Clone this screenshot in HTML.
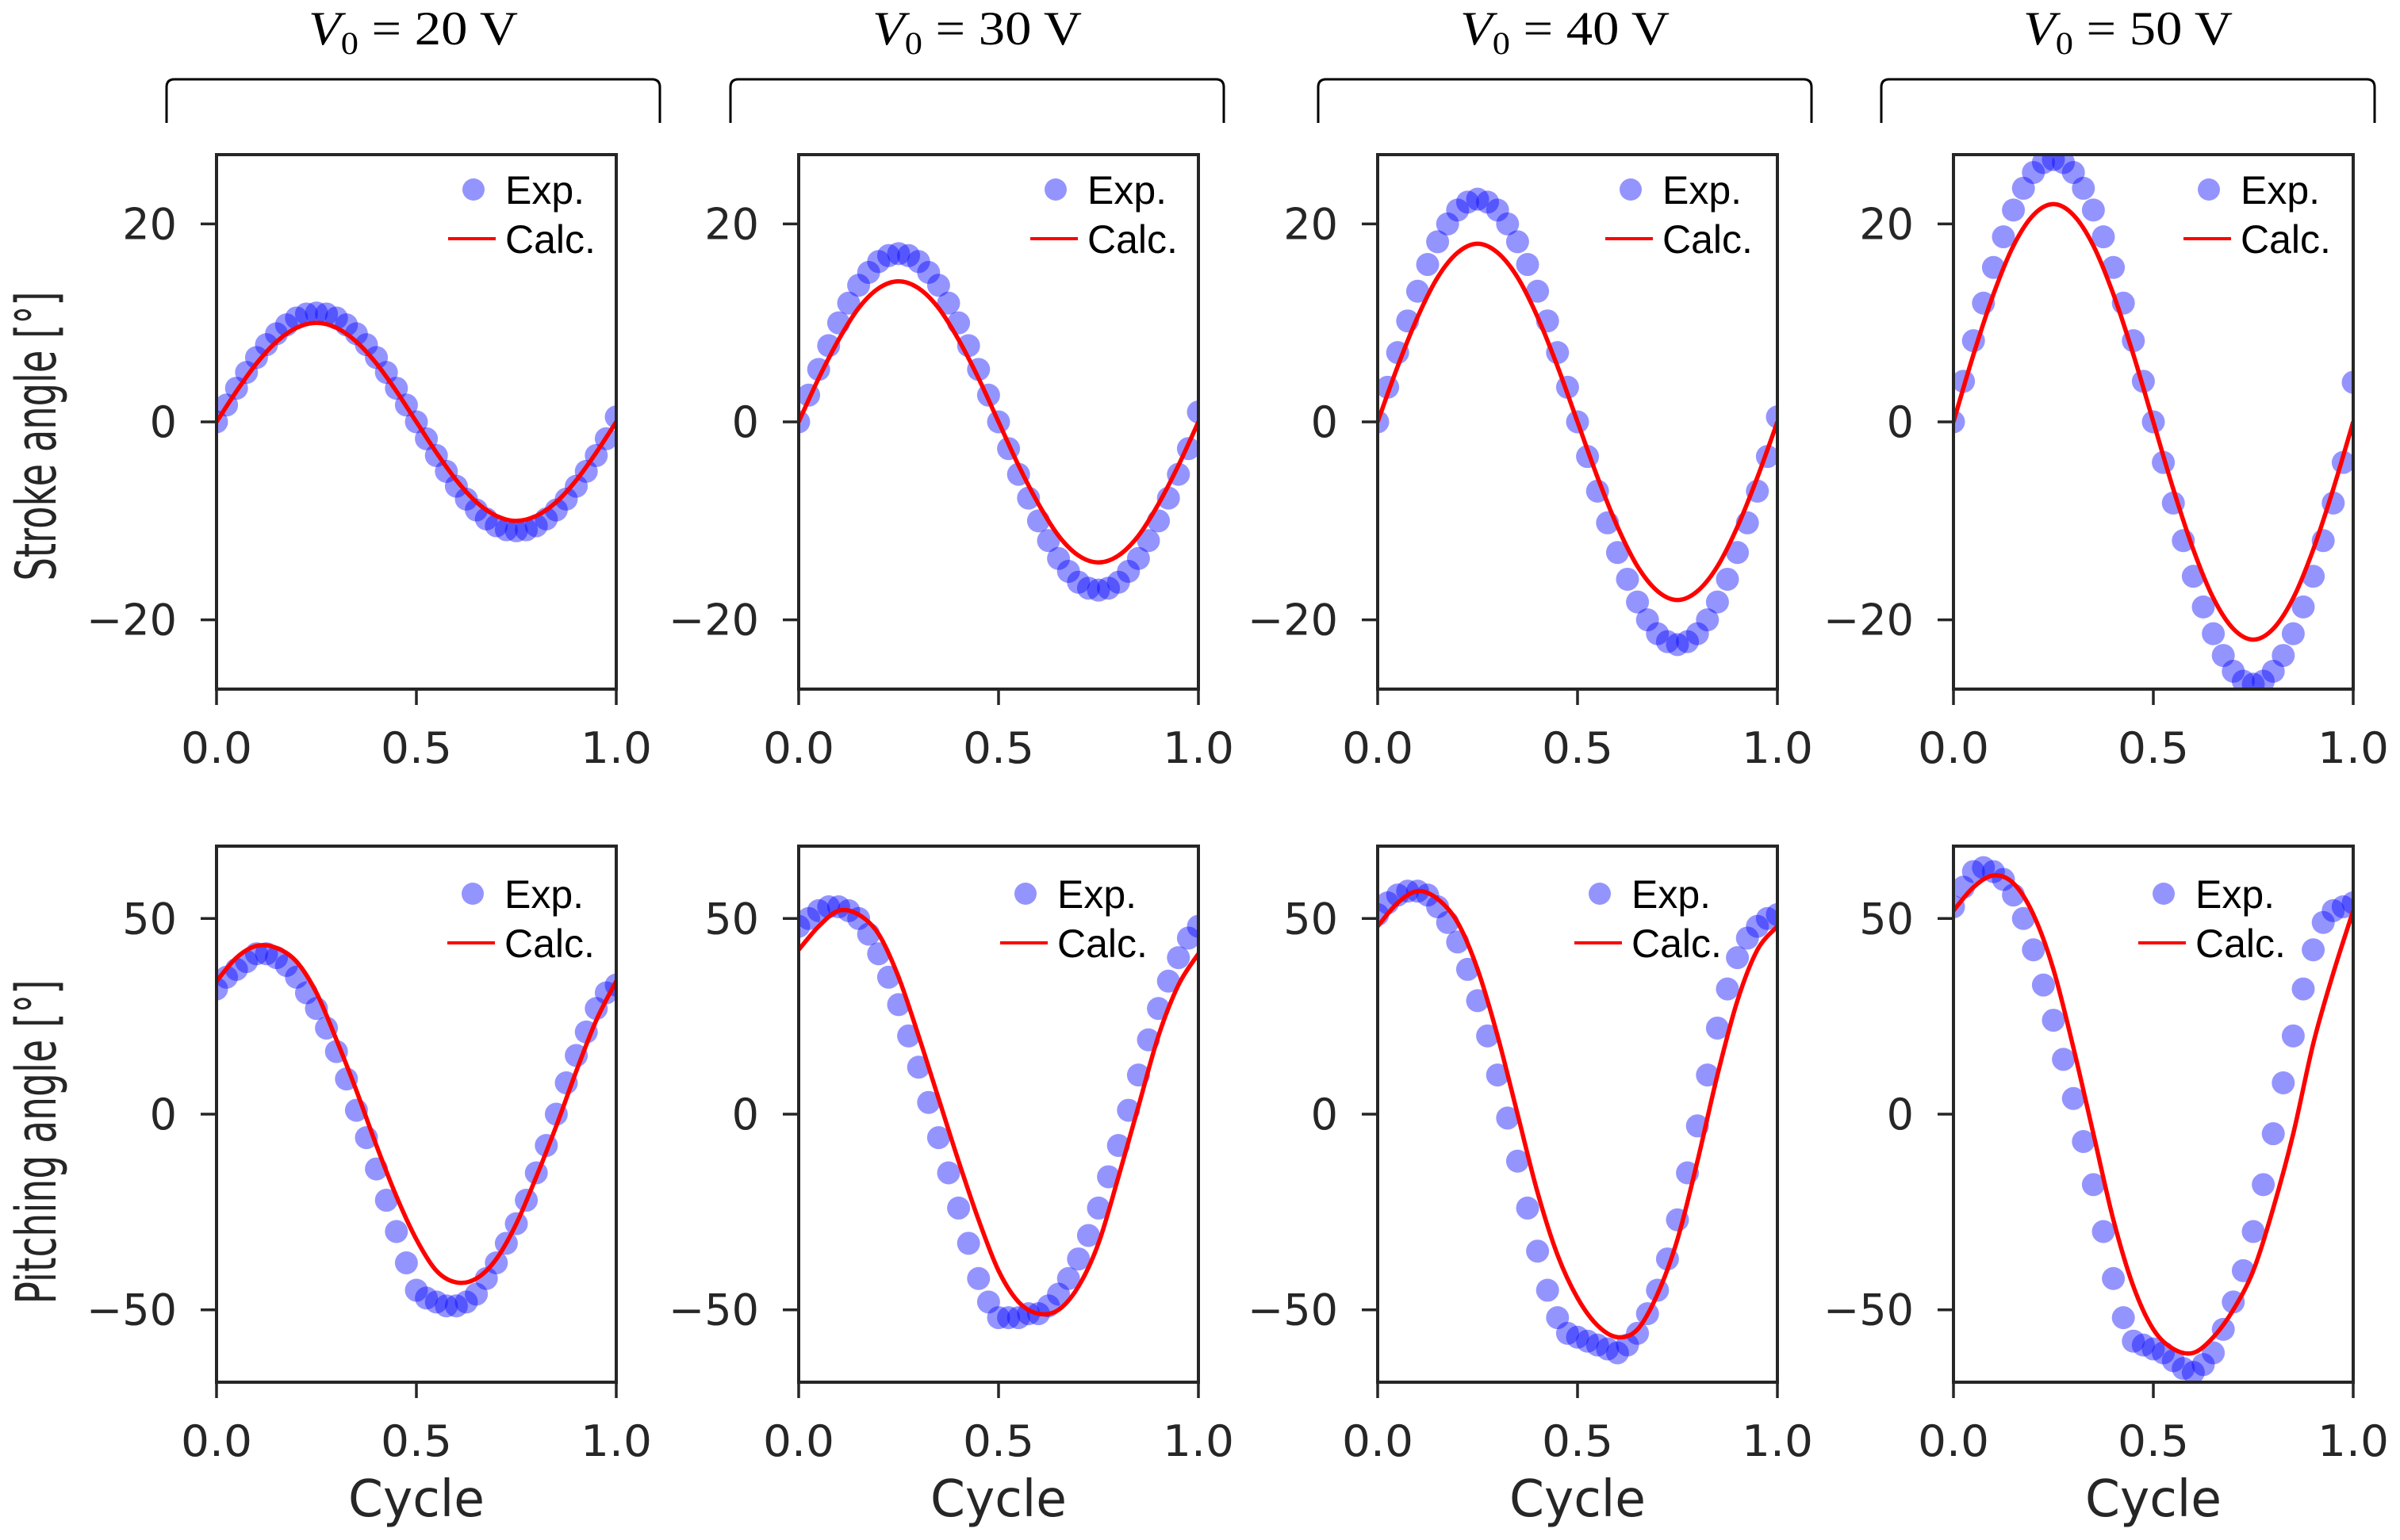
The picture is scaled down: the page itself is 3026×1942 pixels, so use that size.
<!DOCTYPE html>
<html><head><meta charset="utf-8"><style>
html,body{margin:0;padding:0;background:#fff;}
svg{display:block;}
text{font-family:"DejaVu Sans","Liberation Sans",sans-serif;fill:#262626;}
</style></head><body>
<svg id="fig" width="3026" height="1942" viewBox="0 0 3026 1942" xmlns="http://www.w3.org/2000/svg"></svg>
<script>
const cycleTicks = [0, 0.5, 1.0];
const tickLabelsX = ["0.0", "0.5", "1.0"];
const voltages = ["20", "30", "40", "50"];
const strokeTicks = [-20, 0, 20];
const pitchTicks = [-50, 0, 50];
// experimental samples at cycle step 0.025 (41 points)
const expStroke20 = [0,1.7,3.4,5.0,6.5,7.8,8.9,9.8,10.5,10.9,11,10.9,10.5,9.8,8.9,7.8,6.5,5.0,3.4,1.7,0,-1.7,-3.4,-5.0,-6.5,-7.8,-8.9,-9.8,-10.5,-10.9,-11,-10.9,-10.5,-9.8,-8.9,-7.8,-6.5,-5.0,-3.4,-1.7,0.5];
const expStroke30 = [0,2.7,5.3,7.7,10.0,12.0,13.8,15.1,16.2,16.8,17,16.8,16.2,15.1,13.8,12.0,10.0,7.7,5.3,2.7,0,-2.7,-5.3,-7.7,-10.0,-12.0,-13.8,-15.1,-16.2,-16.8,-17,-16.8,-16.2,-15.1,-13.8,-12.0,-10.0,-7.7,-5.3,-2.7,1];
const expStroke40 = [0,3.5,7.0,10.2,13.2,15.9,18.2,20.0,21.4,22.2,22.5,22.2,21.4,20.0,18.2,15.9,13.2,10.2,7.0,3.5,0,-3.5,-7.0,-10.2,-13.2,-15.9,-18.2,-20.0,-21.4,-22.2,-22.5,-22.2,-21.4,-20.0,-18.2,-15.9,-13.2,-10.2,-7.0,-3.5,0.5];
const expStroke50 = [0,4.1,8.2,12.0,15.6,18.7,21.4,23.6,25.2,26.2,26.5,26.2,25.2,23.6,21.4,18.7,15.6,12.0,8.2,4.1,0,-4.1,-8.2,-12.0,-15.6,-18.7,-21.4,-23.6,-25.2,-26.2,-26.5,-26.2,-25.2,-23.6,-21.4,-18.7,-15.6,-12.0,-8.2,-4.1,4];
const expPitch20 = [32,35,37,39,41,41,40,38,35,31,27,22,16,9,1,-6,-14,-22,-30,-38,-45,-47,-48,-49,-49,-48,-46,-42,-38,-33,-28,-22,-15,-8,0,8,15,21,27,31,33];
const expPitch30 = [48,50,52,53,53,52,50,46,41,35,28,20,12,3,-6,-15,-24,-33,-42,-48,-52,-52,-52,-51,-51,-49,-46,-42,-37,-31,-24,-16,-8,1,10,19,27,34,40,45,48];
const expPitch40 = [51,54,56,57,57,56,53,49,44,37,29,20,10,-1,-12,-24,-35,-45,-52,-56,-57,-58,-59,-60,-61,-59,-56,-51,-45,-37,-27,-15,-3,10,22,32,40,45,48,50,51];
const expPitch50 = [53,58,62,63,62,60,56,50,42,33,24,14,4,-7,-18,-30,-42,-52,-58,-59,-60,-61,-63,-65,-66,-64,-61,-55,-48,-40,-30,-18,-5,8,20,32,42,49,52,53,54];
// calculated curves at cycle step 0.05 (21 points)
const calcStroke20 = [0,3.1,5.9,8.1,9.5,10,9.5,8.1,5.9,3.1,0,-3.1,-5.9,-8.1,-9.5,-10,-9.5,-8.1,-5.9,-3.1,0];
const calcStroke30 = [0,4.4,8.3,11.5,13.5,14.2,13.5,11.5,8.3,4.4,0,-4.4,-8.3,-11.5,-13.5,-14.2,-13.5,-11.5,-8.3,-4.4,0];
const calcStroke40 = [0,5.6,10.6,14.6,17.1,18,17.1,14.6,10.6,5.6,0,-5.6,-10.6,-14.6,-17.1,-18,-17.1,-14.6,-10.6,-5.6,0];
const calcStroke50 = [0,6.8,12.9,17.8,20.9,22,20.9,17.8,12.9,6.8,0,-6.8,-12.9,-17.8,-20.9,-22,-20.9,-17.8,-12.9,-6.8,0];
const calcPitch20 = [34,40,43,42.5,39,31,19,6,-8,-21,-32,-40,-43,-42,-37,-28,-16,-3,11,24,34];
const calcPitch30 = [42,48,52,51,46,35,20,4,-12,-27,-40,-48,-51,-50,-44,-33,-16,2,20,33,41];
const calcPitch40 = [48,54,57,55,49,37,20,0,-20,-36,-47,-54,-57,-55,-46,-32,-12,10,29,42,48];
const calcPitch50 = [52,58,61,59,51,37,17,-5,-27,-44,-55,-60,-61,-57,-50,-40,-24,-5,18,36,52];

const expStroke = [expStroke20, expStroke30, expStroke40, expStroke50];
const expPitch = [expPitch20, expPitch30, expPitch40, expPitch50];
const calcStroke = [calcStroke20, calcStroke30, calcStroke40, calcStroke50];
const calcPitch = [calcPitch20, calcPitch30, calcPitch40, calcPitch50];

const NS = "http://www.w3.org/2000/svg";
const svg = document.getElementById('fig');
function mk(tag, attrs, parent) {
  const e = document.createElementNS(NS, tag);
  for (const k in attrs) e.setAttribute(k, attrs[k]);
  (parent || svg).appendChild(e);
  return e;
}
const colL = [273, 1007, 1737, 2463];
const W = 504;
const rows = [
  {top: 195, bot: 869, lim: 27, ticks: strokeTicks, exp: expStroke, calc: calcStroke, legY: [44, 106], legX: [-180, -180, -185, -182], label: "Stroke angle [°]", labY: 550, labLen: 365, tickY: 962, kind: "stroke"},
  {top: 1067, bot: 1743, lim: 68.5, ticks: pitchTicks, exp: expPitch, calc: calcPitch, legY: [60, 122], legX: [-181, -218, -224, -239], label: "Pitching angle [°]", labY: 1440, labLen: 409, tickY: 1836, kind: "pitch"}
];
const defs = mk('defs', {});

rows.forEach((r, ri) => {
  const yl = mk('text', {x: 0, y: 0, 'font-size': 70, 'text-anchor': 'middle', transform: `translate(70 ${r.labY}) rotate(-90)`, textLength: r.labLen, lengthAdjust: 'spacingAndGlyphs'});
  
  
  yl.textContent = r.label;

  colL.forEach((L, ci) => {
    const R = L + W;
    const xs = v => L + v * W;
    const ys = v => r.top + (r.lim - v) / (2 * r.lim) * (r.bot - r.top);
    const g = mk('g', {});
    
    
    const cp = mk('clipPath', {id: `cp${ri}${ci}`}, defs);
    mk('rect', {x: L, y: r.top, width: W, height: r.bot - r.top}, cp);
    const plot = mk('g', {'clip-path': `url(#cp${ri}${ci})`}, g);
    const ex = r.exp[ci];
    ex.forEach((v, i) => {
      const c = mk('circle', {cx: xs(i / (ex.length - 1)), cy: ys(v), r: 14.5, fill: '#0000ff', 'fill-opacity': 0.42}, plot);
      
      
    });
    const cv = r.calc[ci];
    const pts = cv.map((v, i) => [xs(i / (cv.length - 1)), ys(v)]);
    let d = `M${pts[0][0]},${pts[0][1]}`;
    for (let i = 0; i < pts.length - 1; i++) {
      const p0 = pts[Math.max(0, i - 1)], p1 = pts[i], p2 = pts[i + 1], p3 = pts[Math.min(pts.length - 1, i + 2)];
      const c1 = [p1[0] + (p2[0] - p0[0]) / 6, p1[1] + (p2[1] - p0[1]) / 6];
      const c2 = [p2[0] - (p3[0] - p1[0]) / 6, p2[1] - (p3[1] - p1[1]) / 6];
      d += ` C${c1[0]},${c1[1]} ${c2[0]},${c2[1]} ${p2[0]},${p2[1]}`;
    }
    const ln = mk('path', {d: d, fill: 'none', stroke: '#ff0000', 'stroke-width': 5.5}, plot);
    
    
    const fr = mk('rect', {x: L, y: r.top, width: W, height: r.bot - r.top, fill: 'none', stroke: '#262626', 'stroke-width': 4}, g);
    
    
    r.ticks.forEach(t => {
      mk('line', {x1: L - 20, x2: L, y1: ys(t), y2: ys(t), stroke: '#262626', 'stroke-width': 3.5}, g);
      const tl = mk('text', {x: L - 50, y: ys(t) + 19, 'font-size': 54, 'text-anchor': 'end'}, g);
      
      
      tl.textContent = t < 0 ? '\u2212' + Math.abs(t) : String(t);
    });
    cycleTicks.forEach((t, i) => {
      mk('line', {x1: xs(t), x2: xs(t), y1: r.bot, y2: r.bot + 20, stroke: '#262626', 'stroke-width': 3.5}, g);
      const tl = mk('text', {x: xs(t), y: r.tickY, 'font-size': 54, 'text-anchor': 'middle', textLength: 90, lengthAdjust: 'spacingAndGlyphs'}, g);
      
      
      tl.textContent = tickLabelsX[i];
    });
    const mx = R + r.legX[ci];
    const lg = mk('g', {}, g);
    
    
    mk('circle', {cx: mx, cy: r.top + r.legY[0], r: 14, fill: '#0000ff', 'fill-opacity': 0.42}, lg);
    const t1 = mk('text', {x: mx + 40, y: r.top + r.legY[0] + 18, 'font-size': 50, style: 'font-family:"Liberation Sans",sans-serif;fill:#000'}, lg);
    t1.textContent = 'Exp.';
    mk('line', {x1: mx - 32, x2: mx + 28, y1: r.top + r.legY[1], y2: r.top + r.legY[1], stroke: '#ff0000', 'stroke-width': 4}, lg);
    const t2 = mk('text', {x: mx + 40, y: r.top + r.legY[1] + 18, 'font-size': 50, style: 'font-family:"Liberation Sans",sans-serif;fill:#000'}, lg);
    t2.textContent = 'Calc.';
    if (ri === 1) {
      const xl = mk('text', {x: L + W / 2, y: 1912, 'font-size': 64, 'text-anchor': 'middle', textLength: 172, lengthAdjust: 'spacingAndGlyphs'}, g);
      
      
      xl.textContent = 'Cycle';
    }
  });
});

const brL = [210, 921, 1662, 2372];
const brW = 622;
brL.forEach((b, i) => {
  const br = mk('path', {d: `M${b},155 L${b},110 Q${b},100 ${b + 10},100 L${b + brW - 10},100 Q${b + brW},100 ${b + brW},110 L${b + brW},155`, fill: 'none', stroke: '#000', 'stroke-width': 3}, svg);
  
  
  const t = mk('text', {x: b + brW / 2, y: 56, 'font-size': 60, 'text-anchor': 'middle', textLength: 264, lengthAdjust: 'spacingAndGlyphs', style: 'font-family:"Liberation Serif","DejaVu Serif",serif;fill:#000'}, svg);
  
  
  const v = mk('tspan', {'font-style': 'italic'}, t); v.textContent = 'V';
  const s = mk('tspan', {'font-size': 40, dy: 12}, t); s.textContent = '0';
  const r2 = mk('tspan', {dy: -12}, t); r2.textContent = ' = ' + voltages[i] + ' V';
});
</script>
</body></html>
